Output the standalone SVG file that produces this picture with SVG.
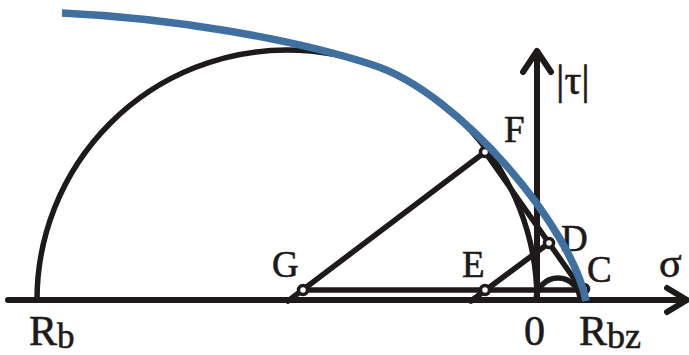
<svg xmlns="http://www.w3.org/2000/svg" width="689" height="355" viewBox="0 0 689 355">
  <style>
    .ln { fill: none; stroke: #1e1a1a; stroke-width: 5.5; stroke-linecap: round; stroke-linejoin: round; }
    .ax { fill: none; stroke: #1e1a1a; stroke-width: 6; stroke-linecap: round; stroke-linejoin: round; }
    .mk { fill: #ffffff; stroke: #1e1a1a; stroke-width: 3.5; }
    .env { fill: none; stroke: #4070a0; stroke-width: 7.5; }
    .lbl { font-family: "Liberation Serif", "Times New Roman", serif; fill: #1e1a1a; font-size: 37px; stroke: #1e1a1a; stroke-width: 0.6; }
    .big { font-size: 42px; }
  </style>
  <rect width="689" height="355" fill="#ffffff"/>

  <g id="axes">
    <path class="ax" d="M8,300 H686"/>
    <path class="ax" d="M667,288 L687,300 L667,312"/>
    <path class="ax" d="M537,300 V52"/>
    <path class="ax" d="M523,72 L537,51 L551,72"/>
    <text class="lbl big" x="556" y="94" font-size="45">|τ|</text>
    <text class="lbl big" x="659" y="277" font-size="46">σ</text>
    <text class="lbl big" x="29" y="345">R<tspan dy="3" font-size="35">b</tspan></text>
    <text class="lbl big" x="524" y="345">0</text>
    <text class="lbl big" x="579" y="345">R<tspan dy="3" font-size="36">bz</tspan></text>
  </g>

  <g id="circles">
    <path class="ln" d="M37,300 A250,250 0 0 1 537,300"/>
    <path class="ln" d="M536,300 A22,22 0 0 1 580,300"/>
  </g>

  <g id="connectors">
    <path class="ln" d="M303,290 H583"/>
    <path class="ln" d="M288,301 L485,152"/>
    <path class="ln" d="M471,301 L549,243"/>
    <path class="ln" d="M485,152 L582,290"/>
  </g>

  <g id="node-G">
    <circle class="mk" cx="303" cy="290" r="4.5"/>
    <text class="lbl" x="272" y="277">G</text>
  </g>
  <g id="node-E">
    <circle class="mk" cx="485" cy="290" r="4.5"/>
    <text class="lbl" x="462" y="277">E</text>
  </g>
  <g id="node-F">
    <circle class="mk" cx="485" cy="152" r="4.5"/>
    <text class="lbl" x="504" y="142">F</text>
  </g>
  <g id="node-D">
    <circle class="mk" cx="549" cy="243" r="4.5"/>
    <text class="lbl" x="561" y="251">D</text>
  </g>
  <g id="node-C">
    <circle class="mk" cx="584" cy="289" r="4.5"/>
    <text class="lbl" x="587" y="282">C</text>
  </g>

  <g id="envelope">
    <path class="env" d="M62,13 C170,18 290,38 373,65 C460,93 572,228 586,301"/>
  </g>
</svg>
